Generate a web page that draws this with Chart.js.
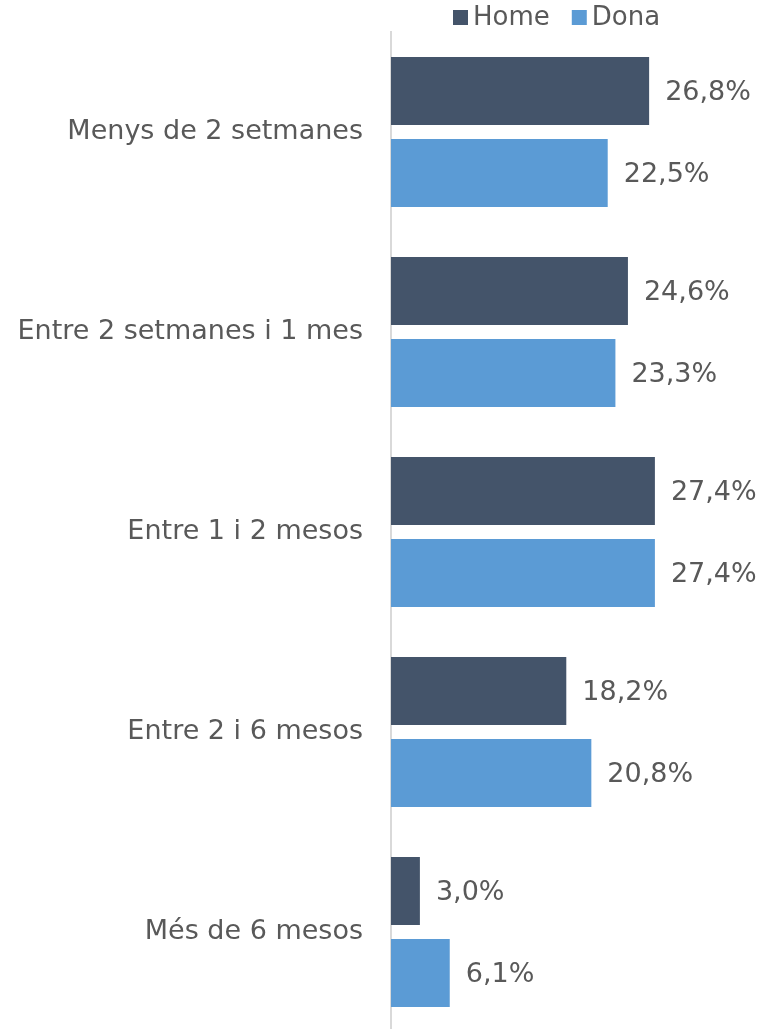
<!DOCTYPE html>
<html>
<head>
<meta charset="utf-8">
<script src="https://cdn.jsdelivr.net/npm/chart.js@4"></script>
<style>
  html, body { margin: 0; padding: 0; background: #fff; overflow: hidden; }
  canvas { display: block; }
</style>
</head>
<body>
<canvas id="chart" width="761" height="1032"></canvas>
<script>
const categories = ['Menys de 2 setmanes', 'Entre 2 setmanes i 1 mes', 'Entre 1 i 2 mesos', 'Entre 2 i 6 mesos', 'Més de 6 mesos'];
const seriesNames = ['Home', 'Dona'];
const homeValues = [26.8, 24.6, 27.4, 18.2, 3.0];
const donaValues = [22.5, 23.3, 27.4, 20.8, 6.1];
const colors = ['#44546a', '#5b9bd5'];

const FONT = '"DejaVu Sans", sans-serif';
const TEXT = '#595959';

// value labels at bar end, comma decimal
const valueLabels = {
    id: 'valueLabels',
    afterDatasetsDraw(chart) {
        const ctx = chart.ctx;
        ctx.save();
        ctx.font = '27px ' + FONT;
        ctx.fillStyle = TEXT;
        ctx.textBaseline = 'middle';
        ctx.textAlign = 'left';
        chart.data.datasets.forEach((ds, i) => {
            chart.getDatasetMeta(i).data.forEach((bar, j) => {
                const txt = ds.data[j].toFixed(1).replace('.', ',') + '%';
                ctx.fillText(txt, bar.x + 16, bar.y + 2);
            });
        });
        ctx.restore();
    }
};

// legend drawn by hand to sit over the bars
const topLegend = {
    id: 'topLegend',
    afterDraw(chart) {
        const ctx = chart.ctx;
        ctx.save();
        ctx.font = '26px ' + FONT;
        ctx.textBaseline = 'middle';
        let x = 453;
        const y = 17;
        seriesNames.forEach((name, i) => {
            ctx.fillStyle = colors[i];
            ctx.fillRect(x, y - 7, 15, 15);
            ctx.fillStyle = TEXT;
            ctx.fillText(name, x + 20, y + 1);
            x += 20 + ctx.measureText(name).width + 22;
        });
        ctx.restore();
    }
};

new Chart(document.getElementById('chart'), {
    type: 'bar',
    data: {
        labels: categories,
        datasets: [
            { label: seriesNames[0], data: homeValues, backgroundColor: colors[0] },
            { label: seriesNames[1], data: donaValues, backgroundColor: colors[1] }
        ]
    },
    options: {
        indexAxis: 'y',
        responsive: false,
        animation: false,
        categoryPercentage: 0.82,
        barPercentage: 0.83,
        layout: { padding: { top: 32, right: 4, bottom: 0, left: 0 } },
        plugins: {
            legend: { display: false },
            tooltip: { enabled: false }
        },
        scales: {
            x: {
                display: false,
                min: 0,
                max: 38
            },
            y: {
                afterFit(scale) {
                    scale.width = 391;
                    scale.paddingTop = 0;
                    scale.paddingBottom = 0;
                },
                grid: { display: false, drawTicks: false },
                border: { display: true, color: '#d9d9d9', width: 2 },
                ticks: {
                    padding: 28,
                    color: TEXT,
                    font: { family: FONT, size: 27 }
                }
            }
        }
    },
    plugins: [valueLabels, topLegend]
});
</script>
</body>
</html>
